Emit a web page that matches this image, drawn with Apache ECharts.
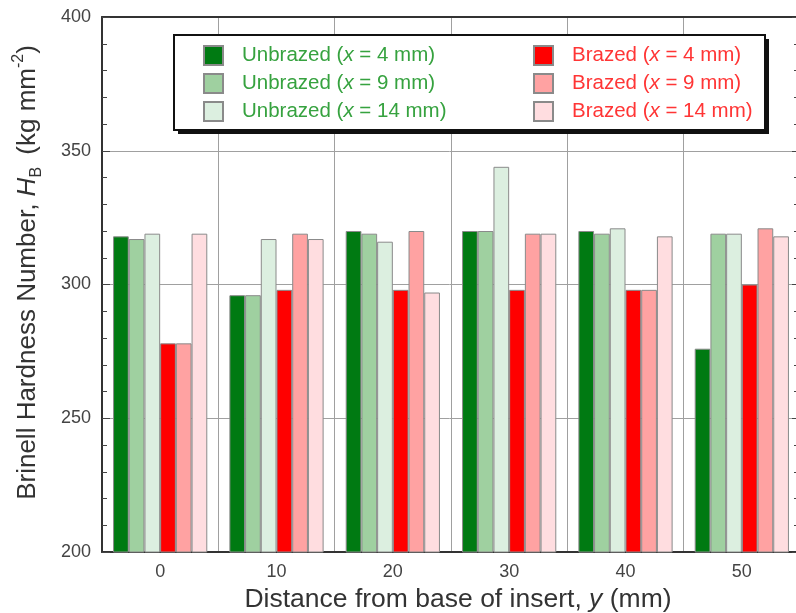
<!DOCTYPE html>
<html>
<head>
<meta charset="utf-8">
<script src="https://cdn.jsdelivr.net/npm/echarts@6/dist/echarts.min.js"></script>
<style>
  html, body { margin: 0; padding: 0; background: #fff; }
  #chart { width: 796px; height: 613px; }
</style>
</head>
<body>
<div id="chart"></div>
<script>
// distance from base of insert, y (mm)
var categories = ["0", "10", "20", "30", "40", "50"];

// Brinell hardness, kg mm^-2
var unbrazed4 = [318, 296, 320, 320, 320, 276];
var unbrazed9 = [317, 296, 319, 320, 319, 319];
var unbrazed14 = [319, 317, 316, 344, 321, 319];
var brazed4 = [278, 298, 298, 298, 298, 300];
var brazed9 = [278, 319, 320, 319, 298, 321];
var brazed14 = [319, 317, 297, 319, 318, 318];

var FONT = "Liberation Sans, Arial, Helvetica, sans-serif";
var GREEN_TXT = "#36a23f";
var RED_TXT = "#ff3535";

function bar(name, data, color) {
  return {
    name: name,
    type: "bar",
    data: data,
    barGap: 0,
    barCategoryGap: "19%",
    itemStyle: { color: color, borderColor: "#8a8a8a", borderWidth: 1 },
    emphasis: { disabled: true }
  };
}

function legendBox(left, names, color) {
  return {
    orient: "vertical",
    left: left,
    top: 45,
    padding: 0,
    itemWidth: 19,
    itemHeight: 19,
    itemGap: 7,
    icon: "rect",
    selectedMode: false,
    data: names,
    formatter: function (n) { return n.replace("(x", "({i|x}"); },
    textStyle: {
      fontFamily: FONT, fontSize: 20.5, color: color, padding: [0, 0, 0, 14],
      rich: { i: { fontFamily: FONT, fontSize: 20.5, color: color, fontStyle: "italic" } }
    },
    z: 6
  };
}

var axisLineStyle = { color: "#333", width: 2 };

var option = {
  animation: false,
  backgroundColor: "#fff",
  grid: { left: 102, top: 17, width: 698, bottom: 61, outerBoundsMode: "none", containLabel: false },
  legend: [
    legendBox(203, ["Unbrazed (x = 4 mm)", "Unbrazed (x = 9 mm)", "Unbrazed (x = 14 mm)"], GREEN_TXT),
    legendBox(533, ["Brazed (x = 4 mm)", "Brazed (x = 9 mm)", "Brazed (x = 14 mm)"], RED_TXT)
  ],
  graphic: [
    { type: "rect", z: 5, shape: { x: 178, y: 39, width: 591, height: 95 }, style: { fill: "#111" } },
    { type: "rect", z: 5, shape: { x: 174, y: 35, width: 591, height: 95 },
      style: { fill: "#fff", stroke: "#111", lineWidth: 2 } }
  ],
  xAxis: [{
    type: "category",
    data: categories,
    name: "Distance from base of insert, {i|y} (mm)",
    nameLocation: "middle",
    nameGap: 30,
    nameTextStyle: {
      fontFamily: FONT, fontSize: 26.5, color: "#333", padding: [0, 0, 0, 14],
      rich: { i: { fontFamily: FONT, fontSize: 26.5, color: "#333", fontStyle: "italic" } }
    },
    axisLine: { lineStyle: axisLineStyle },
    axisTick: { inside: true, length: 6, lineStyle: { color: "#666" } },
    axisLabel: { fontFamily: FONT, fontSize: 18, color: "#444", margin: 11 },
    splitLine: { show: true, lineStyle: { color: "#a0a0a0", width: 1 } }
  }, {
    type: "category",
    data: categories,
    position: "top",
    axisLine: { lineStyle: axisLineStyle },
    axisTick: { inside: true, length: 6, lineStyle: { color: "#666" } },
    axisLabel: { show: false }
  }],
  yAxis: [{
    type: "value",
    min: 200,
    max: 400,
    interval: 50,
    name: "Brinell Hardness Number, {i|H}{sub|B} (kg mm{sup|-2})",
    nameLocation: "middle",
    nameGap: 57,
    nameTextStyle: {
      fontFamily: FONT, fontSize: 26, color: "#333", lineHeight: 34, padding: [0, 0, 0, 24],
      rich: {
        i: { fontFamily: FONT, fontSize: 26, color: "#333", fontStyle: "italic", lineHeight: 34 },
        sub: { fontFamily: FONT, fontSize: 16, color: "#333", verticalAlign: "bottom", lineHeight: 34, padding: [0, 5, 0, 0] },
        sup: { fontFamily: FONT, fontSize: 16, color: "#333", verticalAlign: "top", lineHeight: 34 }
      }
    },
    axisLine: { show: true, lineStyle: axisLineStyle },
    axisTick: { show: true, inside: true, length: 8, lineStyle: { color: "#444" } },
    minorTick: { show: true, splitNumber: 5, length: 5, lineStyle: { color: "#444" } },
    axisLabel: { fontFamily: FONT, fontSize: 18, color: "#444", margin: 11 },
    splitLine: { show: true, lineStyle: { color: "#a0a0a0", width: 1 } }
  }, {
    type: "value",
    min: 200,
    max: 400,
    interval: 50,
    position: "right",
    axisLine: { show: true, lineStyle: axisLineStyle },
    axisTick: { show: true, inside: true, length: 8, lineStyle: { color: "#444" } },
    minorTick: { show: true, splitNumber: 5, length: 6, lineStyle: { color: "#444" } },
    axisLabel: { show: false },
    splitLine: { show: false }
  }],
  series: [
    bar("Unbrazed (x = 4 mm)", unbrazed4, "#007a12"),
    bar("Unbrazed (x = 9 mm)", unbrazed9, "#9fd0a0"),
    bar("Unbrazed (x = 14 mm)", unbrazed14, "#dcefe0"),
    bar("Brazed (x = 4 mm)", brazed4, "#ff0000"),
    bar("Brazed (x = 9 mm)", brazed9, "#ffa2a2"),
    bar("Brazed (x = 14 mm)", brazed14, "#ffdde0")
  ]
};

var chart = echarts.init(document.getElementById("chart"), null, { renderer: "canvas" });
chart.setOption(option);
</script>
</body>
</html>
